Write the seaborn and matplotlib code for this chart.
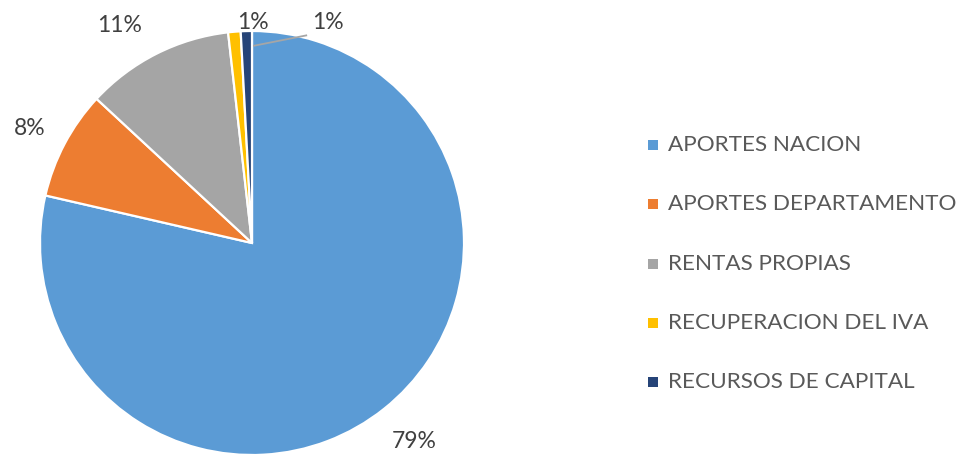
import numpy as np
import matplotlib
matplotlib.use("Agg")
import matplotlib.pyplot as plt
from matplotlib.patches import Rectangle
import seaborn as sns

# Income sources and their shares of the budget
categories = ["APORTES NACION", "APORTES DEPARTAMENTO", "RENTAS PROPIAS",
              "RECUPERACION DEL IVA", "RECURSOS DE CAPITAL"]
shares = [78.6, 8.3, 11.3, 0.95, 0.85]
colors = ["#5B9BD5", "#ED7D31", "#A5A5A5", "#FFC000", "#264478"]

sns.set_theme(style="white")
plt.rcParams["font.family"] = ["Lato", "DejaVu Sans"]

W, H = 961, 454
fig = plt.figure(figsize=(W / 100, H / 100), dpi=100)

cx, cy, R = 252, 243, 212
ax = fig.add_axes([(cx - R) / W, (H - cy - R) / H, 2 * R / W, 2 * R / H])
wedges, _ = ax.pie(shares, colors=colors, startangle=90, counterclock=False,
                   radius=1.0, wedgeprops=dict(edgecolor="white", linewidth=1.6))
ax.set_xlim(-1, 1)
ax.set_ylim(-1, 1)
ax.set_aspect("equal")
ax.axis("off")

total = sum(shares)
pcts = [f"{v / total * 100:.0f}%" for v in shares]

label_color = "#404040"
fs_lab = 16.5
fs_leg = 16.2
# (radius, angle shift in degrees) for each label around its wedge middle
placement = [(1.21, 0.8), (1.18, 0.7), (1.2, 4.5), (1.04, -5.0)]
for w, p, (r, shift) in zip(wedges[:4], pcts[:4], placement):
    th = np.deg2rad((w.theta1 + w.theta2) / 2 + shift)
    ax.text(r * np.cos(th), r * np.sin(th), p, ha="center", va="center",
            fontsize=fs_lab, color=label_color, clip_on=False)

# Last, very thin slice gets its label off to the side with a leader line
w = wedges[4]
th = np.deg2rad((w.theta1 + w.theta2) / 2)
x0, y0 = 0.93 * np.cos(th) + 0.03, 0.93 * np.sin(th)
ax.plot([x0, 0.26], [y0, 0.98], color="#A6A6A6", lw=1.3, clip_on=False,
        solid_capstyle="butt")
ax.text(0.285, 1.042, pcts[4], ha="left", va="center", fontsize=fs_lab,
        color=label_color, clip_on=False)

# Legend on the right
leg_y = [145, 204, 264, 323, 382]
sq = 10
for name, col, y in zip(categories, colors, leg_y):
    fig.patches.append(Rectangle(((653 - sq / 2) / W, 1 - (y + sq / 2) / H),
                                 sq / W, sq / H, transform=fig.transFigure,
                                 facecolor=col, edgecolor="none"))
    fig.text(668 / W, 1 - y / H, name, ha="left", va="center",
             fontsize=fs_leg, color="#595959")

fig.savefig("out.png", dpi=100, facecolor="white")
